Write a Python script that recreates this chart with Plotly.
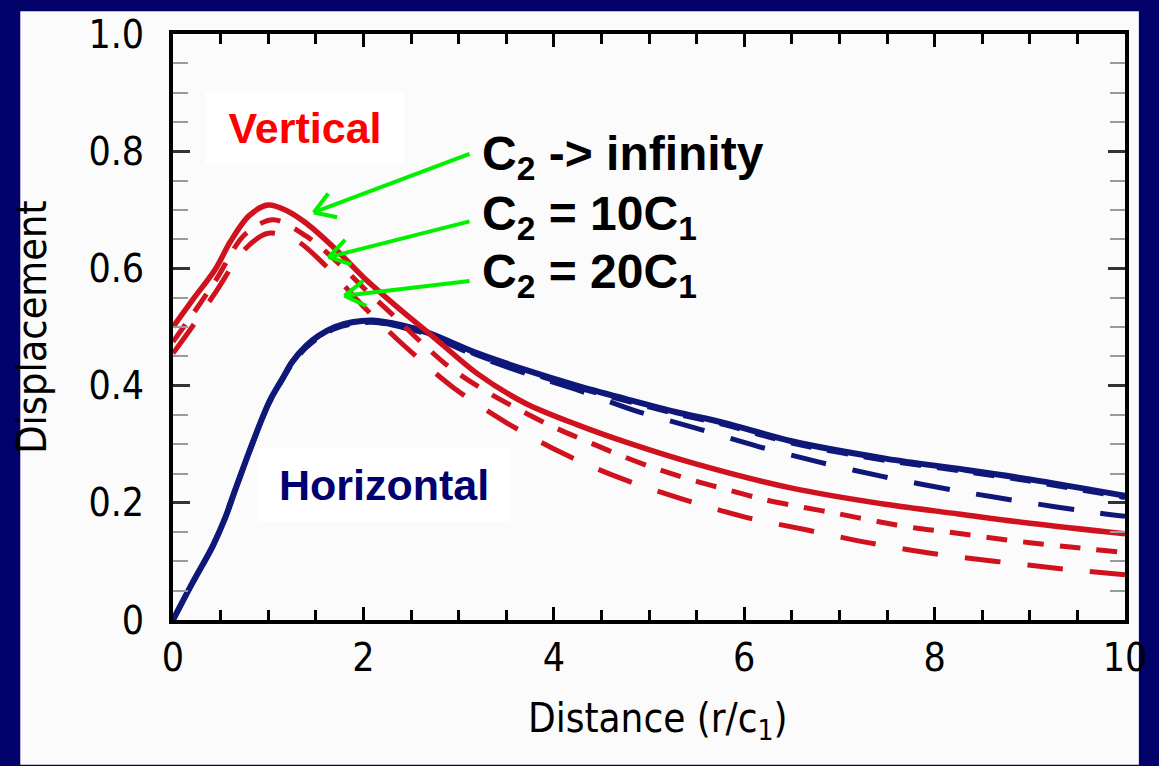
import numpy as np
import plotly.graph_objects as go

# ---------------- data ----------------
red_inf_x = [0, 0.2, 0.45, 0.6, 0.8, 1.0, 1.2, 1.4, 1.7, 2.0, 2.4, 2.7, 3.2, 3.7, 4.25, 4.75, 5.5, 6.5, 7.5, 8.25, 9.0, 10.0]
red_inf_y = [0.50, 0.545, 0.60, 0.645, 0.69, 0.708, 0.698, 0.677, 0.634, 0.585, 0.528, 0.488, 0.42, 0.37, 0.333, 0.304, 0.266, 0.225, 0.197, 0.181, 0.165, 0.147]

red_10_x = [0, 0.2, 0.45, 0.75, 1.05, 1.4, 1.75, 2.0, 2.3, 2.6, 2.9, 3.25, 3.6, 3.95, 4.33, 4.7, 5.06, 5.45, 5.83, 6.2, 6.63, 7.0, 7.4, 7.8, 8.2, 8.6, 9.0, 9.4, 10.0]
red_10_y = [0.475, 0.52, 0.58, 0.657, 0.683, 0.655, 0.607, 0.567, 0.522, 0.475, 0.432, 0.394, 0.362, 0.333, 0.306, 0.281, 0.259, 0.239, 0.222, 0.206, 0.192, 0.181, 0.168, 0.157, 0.149, 0.140, 0.132, 0.125, 0.115]

red_20_x = [0, 0.2, 0.45, 0.75, 1.0, 1.3, 1.6, 2.0, 2.45, 2.95, 3.5, 4.1, 4.7, 5.36, 6.0, 6.65, 7.3, 8.0, 8.65, 9.3, 10.0]
red_20_y = [0.455, 0.50, 0.56, 0.632, 0.66, 0.647, 0.605, 0.535, 0.465, 0.396, 0.337, 0.284, 0.242, 0.206, 0.176, 0.154, 0.132, 0.113, 0.100, 0.088, 0.077]

blue_inf_x = [0, 0.2, 0.42, 0.55, 0.66, 0.84, 1.01, 1.15, 1.25, 1.4, 1.53, 1.7, 1.88, 2.1, 2.4, 2.68, 3.2, 3.72, 4.24, 4.76, 5.28, 5.8, 6.5, 7.5, 8.3, 9.0, 10.0]
blue_inf_y = [0.0, 0.062, 0.127, 0.175, 0.225, 0.304, 0.372, 0.412, 0.44, 0.468, 0.485, 0.500, 0.508, 0.511, 0.503, 0.49, 0.455, 0.426, 0.400, 0.377, 0.355, 0.336, 0.305, 0.275, 0.257, 0.24, 0.212]

blue_10_x = [0, 0.2, 0.42, 0.55, 0.66, 0.84, 1.01, 1.15, 1.25, 1.4, 1.53, 1.7, 1.88, 2.1, 2.4, 2.68, 3.2, 3.72, 4.24, 4.76, 5.28, 5.8, 6.5, 7.5, 8.3, 9.0, 10.0]
blue_10_y = [0.0, 0.062, 0.127, 0.175, 0.225, 0.303, 0.370, 0.410, 0.437, 0.465, 0.482, 0.497, 0.505, 0.508, 0.500, 0.487, 0.452, 0.423, 0.397, 0.374, 0.352, 0.333, 0.302, 0.272, 0.254, 0.237, 0.209]

blue_20_x = [0, 0.2, 0.42, 0.66, 0.84, 1.01, 1.15, 1.25, 1.4, 1.53, 1.7, 1.88, 2.1, 2.4, 2.68, 3.2, 3.72, 4.24, 4.86, 5.5, 6.15, 6.8, 7.45, 8.25, 9.0, 9.7, 10.0]
blue_20_y = [0.0, 0.062, 0.127, 0.225, 0.304, 0.372, 0.412, 0.44, 0.468, 0.485, 0.499, 0.507, 0.509, 0.50, 0.486, 0.45, 0.42, 0.393, 0.357, 0.327, 0.296, 0.269, 0.245, 0.22, 0.20, 0.183, 0.177]

x_tickvals = [0, 2, 4, 6, 8, 10]
x_ticktext = ["0", "2", "4", "6", "8", "10"]
x_minor = [0.5 * i for i in range(21)]
y_tickvals = [0, 0.2, 0.4, 0.6, 0.8, 1.0]
y_ticktext = ["0", "0.2", "0.4", "0.6", "0.8", "1.0"]
y_minor = [round(0.05 * i, 2) for i in range(21)]

labels = ["C<sub>2</sub> -> infinity", "C<sub>2</sub> = 10C<sub>1</sub>", "C<sub>2</sub> = 20C<sub>1</sub>"]
x_title = "Distance (r/c<sub>1</sub>)"
y_title = "Displacement"

# ---------------- styling ----------------
W, H = 1159, 766
PL, PR, PT, PB = 173, 1133, 29, 620
NAVY = "#02026A"
PANEL = "#FBFBFB"
RED = "#D0121E"
BLUE = "#0F1878"
GREEN = "#00F000"
COND = "DejaVu Sans Condensed, Liberation Sans Narrow, Arial Narrow, sans-serif"
BOLD = "Liberation Sans, Arial, sans-serif"


def fx(px):
    return (px - PL) / (PR - PL)


def fy(py):
    return (PB - py) / (PB - PT)


fig = go.Figure()

SHORT = "21px,16px"
LONG = "36px,27px"

for xs, ys, color, dash, w in [
    (blue_20_x, blue_20_y, BLUE, LONG, 5),
    (blue_10_x, blue_10_y, BLUE, SHORT, 5),
    (blue_inf_x, blue_inf_y, BLUE, "solid", 6),
    (red_20_x, red_20_y, RED, LONG, 5),
    (red_10_x, red_10_y, RED, SHORT, 5),
    (red_inf_x, red_inf_y, RED, "solid", 5.5),
]:
    fig.add_trace(go.Scatter(x=xs, y=ys, mode="lines",
                             line=dict(color=color, width=w, dash=dash, shape="spline", smoothing=0.9),
                             showlegend=False, hoverinfo="skip"))

shapes = [
    dict(type="rect", xref="paper", yref="paper", x0=fx(19), x1=fx(1147), y0=fy(766), y1=fy(6),
         fillcolor=PANEL, line=dict(width=0), layer="below"),
]

# green arrows (tail at text, chevron head at the curve)
arrows = [((472, 150), (315, 209)), ((472, 218), (330, 254)), ((472, 278), (346, 293))]
for (tx, ty), (hx, hy) in arrows:
    shapes.append(dict(type="line", xref="paper", yref="paper", x0=fx(tx), y0=fy(ty), x1=fx(hx), y1=fy(hy),
                       line=dict(color=GREEN, width=4)))
    v = np.array([tx - hx, ty - hy], dtype=float)
    v /= np.linalg.norm(v)
    for ang in (np.radians(32), -np.radians(32)):
        r = np.array([v[0] * np.cos(ang) - v[1] * np.sin(ang), v[0] * np.sin(ang) + v[1] * np.cos(ang)])
        ex, ey = hx + 24 * r[0], hy + 24 * r[1]
        shapes.append(dict(type="line", xref="paper", yref="paper", x0=fx(hx), y0=fy(hy), x1=fx(ex), y1=fy(ey),
                           line=dict(color=GREEN, width=4)))

annotations = [
    dict(text="<b>Vertical</b>", xref="paper", yref="paper", x=fx(306), y=fy(124), showarrow=False,
         font=dict(family=BOLD, size=43, color="#FF0000"), bgcolor="white", width=190, height=64, borderpad=4,
         xanchor="center", yanchor="middle"),
    dict(text="<b>Horizontal</b>", xref="paper", yref="paper", x=fx(386), y=fy(484), showarrow=False,
         font=dict(family=BOLD, size=43, color="#000070"), bgcolor="white", width=244, height=64, borderpad=4,
         xanchor="center", yanchor="middle"),
    dict(text=x_title, xref="paper", yref="paper", x=fx(662), y=fy(722), showarrow=False,
         xanchor="center", yanchor="middle", font=dict(family=COND, size=40, color="black")),
]
for lab, cy in zip(labels, [153, 214, 272]):
    annotations.append(dict(text="<b>" + lab + "</b>", xref="paper", yref="paper", x=fx(483), y=fy(cy),
                            showarrow=False, xanchor="left", yanchor="middle",
                            font=dict(family=BOLD, size=48, color="black")))

fig.update_layout(
    width=W, height=H,
    margin=dict(l=PL, r=W - PR, t=PT, b=H - PB),
    paper_bgcolor=NAVY, plot_bgcolor=PANEL,
    shapes=shapes, annotations=annotations,
    showlegend=False,
)

fig.update_xaxes(
    range=[0, 10], tickmode="array", tickvals=x_tickvals, ticktext=x_ticktext,
    ticks="inside", ticklen=13, tickwidth=2.5, tickcolor="black",
    minor=dict(tickmode="array", tickvals=x_minor, ticks="inside", ticklen=10, tickwidth=2.5, tickcolor="black"),
    showline=True, linewidth=4, linecolor="black", mirror="allticks",
    showgrid=False, zeroline=False,
    tickfont=dict(family=COND, size=39, color="black"), ticklabelstandoff=0,
)
fig.update_yaxes(
    range=[0, 1.0], tickmode="array", tickvals=y_tickvals, ticktext=y_ticktext,
    ticks="inside", ticklen=17, tickwidth=2.5, tickcolor="#333333",
    minor=dict(tickmode="array", tickvals=y_minor, ticks="inside", ticklen=15, tickwidth=2, tickcolor="#9a9a9a"),
    showline=True, linewidth=4, linecolor="black", mirror="allticks",
    showgrid=False, zeroline=False,
    tickfont=dict(family=COND, size=39, color="black"), ticklabelstandoff=17,
    title=dict(text=y_title, font=dict(family=COND, size=41, color="black"), standoff=30),
)

fig.write_html("out.html")
